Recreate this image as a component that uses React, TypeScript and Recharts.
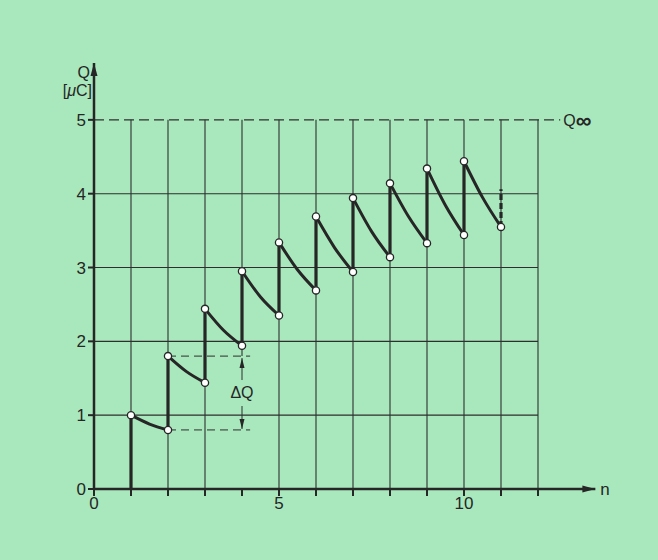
import React from "react";
import { LineChart, Line, XAxis, YAxis, ReferenceLine, ReferenceDot } from "recharts";

// charging pulses: Q right after the pulse at n, halfway to n+1, and just before n+1
const pulseN = [1, 2, 3, 4, 5, 6, 7, 8, 9, 10];
const peakQ = [1.0, 1.8, 2.44, 2.95, 3.34, 3.69, 3.94, 4.14, 4.34, 4.44];
const midQ = [0.88, 1.59, 2.15, 2.6, 2.97, 3.27, 3.49, 3.69, 3.84, 3.95];
const endQ = [0.8, 1.44, 1.94, 2.35, 2.69, 2.94, 3.14, 3.33, 3.44, 3.55];
const tailN = 11;
const tailTopQ = 4.06;

const xTicks = [0, 1, 2, 3, 4, 5, 6, 7, 8, 9, 10, 11, 12];
const xLabels = [0, 5, 10];
const yTicks = [0, 1, 2, 3, 4, 5];
const gridN = [1, 2, 3, 4, 5, 6, 7, 8, 9, 10, 11, 12];
const gridQ = [1, 2, 3, 4];
const qInf = 5;
const qInfEndN = 12.6;
const dqN = 4;
const dqLow = 0.8;
const dqHigh = 1.8;
const dqGuideEndN = 4.22;

const X_MAX = 13.55;
const Y_MAX = 5.77;
const INK = "#262626";
const GRID = "#2e2e2e";
const FONT = "'Liberation Sans', Arial, sans-serif";
const BG = "#a9e8bd";

const decays = pulseN.map((n, i) => [
  { n, Q: peakQ[i] },
  { n: n + 0.5, Q: midQ[i] },
  { n: n + 1, Q: endQ[i] },
]);
const jumps = pulseN.map((n, i) => [
  { n, Q: i === 0 ? 0 : endQ[i - 1] },
  { n, Q: peakQ[i] },
]);
const tail = [
  { n: tailN, Q: endQ[endQ.length - 1] },
  { n: tailN, Q: tailTopQ },
];

const ringDot = (p: any) =>
  p.index === 1 ? (
    <g key={`m${p.index}`} />
  ) : (
    <circle key={`c${p.index}`} cx={p.cx} cy={p.cy} r={3.6} fill="#fff" stroke={INK} strokeWidth={1.3} />
  );

const DqArrow = (p: any) => {
  const { x1, y1, y2 } = p;
  const top = Math.min(y1, y2);
  const bot = Math.max(y1, y2);
  const mid = (top + bot) / 2;
  const x = x1;
  return (
    <g>
      <line x1={x} y1={top + 2} x2={x} y2={mid - 13} stroke={GRID} strokeWidth={1} />
      <polygon points={`${x},${top + 2} ${x - 2.5},${top + 12} ${x + 2.5},${top + 12}`} fill={INK} />
      <line x1={x} y1={mid + 13} x2={x} y2={bot - 1} stroke={GRID} strokeWidth={1} />
      <polygon points={`${x},${bot - 1} ${x - 2.5},${bot - 11} ${x + 2.5},${bot - 11}`} fill={INK} />
      <text x={x} y={mid + 5} textAnchor="middle" fontSize={16} fontFamily={FONT} fill={INK}>
        ΔQ
      </text>
    </g>
  );
};

const QInfLine = (p: any) => {
  const { x1, y1, x2 } = p;
  return (
    <g>
      <line x1={x1} y1={y1} x2={x2} y2={y1} stroke={GRID} strokeWidth={1.2} strokeDasharray="10 5" />
      <text x={x2 + 3} y={y1 + 6} fontSize={16} fontFamily={FONT} fill={INK}>
        Q
        <tspan fontSize={22} fontWeight="bold" dy={2}>∞</tspan>
      </text>
    </g>
  );
};

const XArrow = (p: any) => (
  <g>
    <polygon points={`${p.cx},${p.cy} ${p.cx - 13},${p.cy - 3.5} ${p.cx - 13},${p.cy + 3.5}`} fill={INK} />
    <text x={p.cx + 5} y={p.cy + 6} fontSize={17} fontFamily={FONT} fill={INK}>
      n
    </text>
  </g>
);

const YArrow = (p: any) => (
  <g>
    <polygon points={`${p.cx},${p.cy} ${p.cx - 3.5},${p.cy + 13} ${p.cx + 3.5},${p.cy + 13}`} fill={INK} />
    <text x={p.cx - 4} y={p.cy + 15} textAnchor="end" fontSize={16} fontFamily={FONT} fill={INK}>
      Q
    </text>
    <text x={p.cx - 2} y={p.cy + 33} textAnchor="end" fontSize={16} fontFamily={FONT} fill={INK}>
      [<tspan fontStyle="italic">μ</tspan>C]
    </text>
  </g>
);

export default function App() {
  return (
    <div style={{ width: 658, height: 560, background: BG }}>
      <style>{"body{margin:0}"}</style>
      <LineChart width={658} height={560} margin={{ top: 63, right: 62.65, bottom: 41, left: 54 }}>
        <XAxis
          dataKey="n"
          type="number"
          domain={[0, X_MAX]}
          ticks={xTicks}
          allowDataOverflow
          height={30}
          tickFormatter={(v: number) => (xLabels.includes(v) ? String(v) : "")}
          tick={{ fontSize: 17, fill: INK, fontFamily: FONT }}
          tickSize={7}
          tickMargin={1}
          axisLine={{ stroke: INK, strokeWidth: 2.5 }}
          tickLine={{ stroke: INK, strokeWidth: 2 }}
        />
        <YAxis
          type="number"
          domain={[0, Y_MAX]}
          ticks={yTicks}
          allowDataOverflow
          width={40}
          tick={{ fontSize: 17, fill: INK, fontFamily: FONT }}
          tickSize={6}
          tickMargin={2}
          axisLine={{ stroke: INK, strokeWidth: 2.5 }}
          tickLine={{ stroke: INK, strokeWidth: 2 }}
        />
        {gridN.map((n) => (
          <ReferenceLine
            key={`v${n}`}
            segment={[
              { x: n, y: n === dqN ? dqHigh : 0 },
              { x: n, y: qInf },
            ]}
            stroke={GRID}
            strokeWidth={1.1}
          />
        ))}
        {gridQ.map((q) => (
          <ReferenceLine
            key={`h${q}`}
            segment={[
              { x: 0, y: q },
              { x: gridN[gridN.length - 1], y: q },
            ]}
            stroke={GRID}
            strokeWidth={1.1}
          />
        ))}
        <ReferenceLine
          segment={[
            { x: 0, y: qInf },
            { x: qInfEndN, y: qInf },
          ]}
          shape={QInfLine}
        />
        {[dqHigh, dqLow].map((q) => (
          <ReferenceLine
            key={`dq${q}`}
            segment={[
              { x: 2, y: q },
              { x: dqGuideEndN, y: q },
            ]}
            stroke={GRID}
            strokeWidth={1}
            strokeDasharray="8 5"
          />
        ))}
        <ReferenceLine
          segment={[
            { x: dqN, y: dqLow },
            { x: dqN, y: dqHigh },
          ]}
          shape={DqArrow}
        />
        <ReferenceDot x={X_MAX} y={0} r={0} shape={XArrow} />
        <ReferenceDot x={0} y={Y_MAX} r={0} shape={YArrow} />
        {jumps.map((d, i) => (
          <Line
            key={`j${i}`}
            data={d}
            dataKey="Q"
            type="linear"
            stroke={INK}
            strokeWidth={3.2}
            dot={false}
            activeDot={false}
            isAnimationActive={false}
          />
        ))}
        <Line
          data={tail}
          dataKey="Q"
          type="linear"
          stroke={INK}
          strokeWidth={3.2}
          strokeDasharray="6 3"
          dot={false}
          activeDot={false}
          isAnimationActive={false}
        />
        {decays.map((d, i) => (
          <Line
            key={`d${i}`}
            data={d}
            dataKey="Q"
            type="monotone"
            stroke={INK}
            strokeWidth={3}
            dot={ringDot}
            activeDot={false}
            isAnimationActive={false}
          />
        ))}
      </LineChart>
    </div>
  );
}
